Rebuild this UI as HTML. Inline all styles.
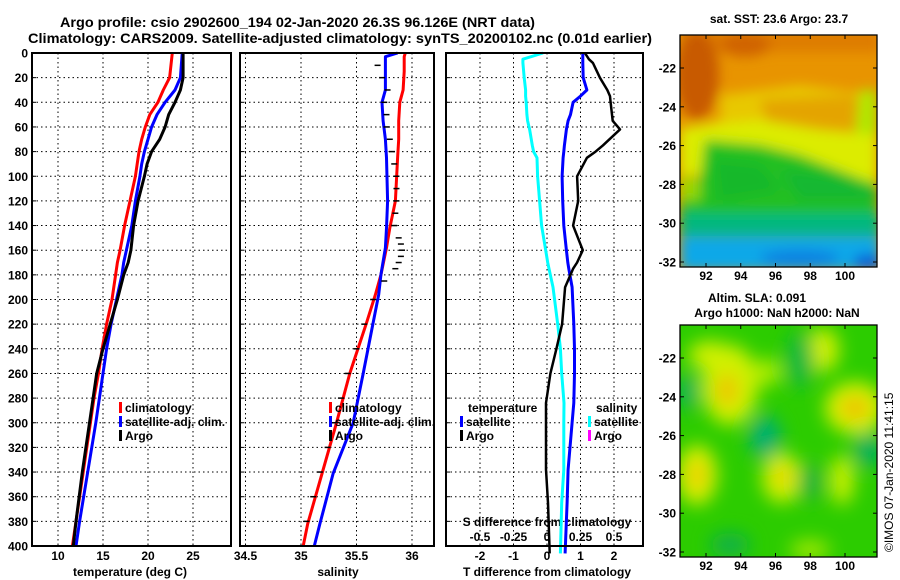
<!DOCTYPE html>
<html><head><meta charset="utf-8">
<style>
body{margin:0;background:#fff;}
svg{display:block;font-family:"Liberation Sans",sans-serif;font-weight:bold;}
</style></head>
<body>
<svg id="fig" width="900" height="580" viewBox="0 0 900 580" xmlns="http://www.w3.org/2000/svg">
<defs>
<filter id="bl" x="-20%" y="-20%" width="140%" height="140%"><feGaussianBlur stdDeviation="6"/></filter>
<filter id="bl2" x="-30%" y="-30%" width="160%" height="160%"><feGaussianBlur stdDeviation="9"/></filter>
<clipPath id="c1"><rect x="680" y="35" width="197" height="232"/></clipPath>
<clipPath id="c2"><rect x="680" y="325" width="197" height="232"/></clipPath>
</defs>
<text x="60" y="27" font-size="14" textLength="475" lengthAdjust="spacingAndGlyphs">Argo profile: csio 2902600_194 02-Jan-2020 26.3S 96.126E (NRT data)</text>
<text x="28" y="43" font-size="14" textLength="624" lengthAdjust="spacingAndGlyphs">Climatology: CARS2009. Satellite-adjusted climatology: synTS_20200102.nc (0.01d earlier)</text>

<!-- top map -->
<g clip-path="url(#c1)">
<rect x="680" y="35" width="197" height="232" fill="#e89400"/>
<g filter="url(#bl)">
<rect x="680" y="30" width="200" height="22" fill="#de7c00"/>
<ellipse cx="697" cy="75" rx="22" ry="45" fill="#c85a00"/>
<ellipse cx="745" cy="45" rx="25" ry="12" fill="#d06400"/>
<polygon points="720,95 800,85 877,95 877,185 680,170 680,130 720,120" fill="#e8c800"/>
<polygon points="760,100 850,95 877,105 877,150 820,150 770,135" fill="#e4a400"/>
<polygon points="860,90 877,90 877,185 850,180" fill="#b0e800"/>
<polygon points="680,128 760,120 820,130 877,135 877,180 680,175" fill="#dcec00"/>
<polygon points="705,140 760,145 800,155 877,185 877,235 680,235 680,180 700,180" fill="#22c020"/>
<polygon points="715,160 760,165 780,190 720,200" fill="#12b82a"/>
<polygon points="780,170 830,175 877,190 877,200 800,200" fill="#18b830"/>
<polygon points="680,175 700,180 700,200 680,200" fill="#9ad800"/>
<rect x="680" y="213" width="200" height="22" fill="#00b880"/>
<rect x="680" y="236" width="200" height="35" fill="#10a8e8"/>
<ellipse cx="800" cy="258" rx="40" ry="8" fill="#0880e0"/>
<ellipse cx="868" cy="262" rx="15" ry="8" fill="#0860d8"/>
</g>
</g>
<rect x="680" y="35" width="197" height="232" fill="none" stroke="#000" stroke-width="1.3"/>

<!-- bottom map -->
<g clip-path="url(#c2)">
<rect x="680" y="325" width="197" height="232" fill="#2ccc00"/>
<g filter="url(#bl2)">
<ellipse cx="730" cy="385" rx="28" ry="40" fill="#d0f000"/>
<ellipse cx="710" cy="355" rx="22" ry="14" fill="#d0f000"/>
<ellipse cx="823" cy="350" rx="16" ry="22" fill="#d0f000"/>
<ellipse cx="855" cy="408" rx="30" ry="26" fill="#d8f000"/>
<ellipse cx="697" cy="475" rx="20" ry="30" fill="#d8f000"/>
<ellipse cx="782" cy="478" rx="20" ry="25" fill="#d0f000"/>
<ellipse cx="842" cy="480" rx="12" ry="25" fill="#c8f000"/>
<ellipse cx="768" cy="372" rx="14" ry="14" fill="#a8ec00"/>
<ellipse cx="765" cy="437" rx="16" ry="22" fill="#00b070"/>
<ellipse cx="688" cy="392" rx="10" ry="18" fill="#00b060"/>
<ellipse cx="868" cy="450" rx="14" ry="18" fill="#00b060"/>
<ellipse cx="800" cy="360" rx="14" ry="28" fill="#10b840"/>
<ellipse cx="730" cy="545" rx="20" ry="12" fill="#10b048"/>
<ellipse cx="810" cy="482" rx="12" ry="18" fill="#10b040"/>
<ellipse cx="810" cy="550" rx="20" ry="10" fill="#a0e800"/>
<ellipse cx="727" cy="390" rx="10" ry="16" fill="#f0c000"/>
<ellipse cx="855" cy="408" rx="14" ry="10" fill="#f0b800"/>
<ellipse cx="697" cy="475" rx="8" ry="14" fill="#f0c800"/>
<ellipse cx="782" cy="476" rx="7" ry="9" fill="#f0c800"/>
</g>
</g>
<rect x="680" y="325" width="197" height="232" fill="none" stroke="#000" stroke-width="1.3"/>

<text x="779" y="23" font-size="12" text-anchor="middle">sat. SST: 23.6 Argo: 23.7</text>
<text x="757" y="302" font-size="12" text-anchor="middle">Altim. SLA: 0.091</text>
<text x="777" y="317" font-size="12" text-anchor="middle">Argo h1000: NaN h2000: NaN</text>
<text transform="translate(893,552) rotate(-90)" font-size="12" font-weight="normal">©IMOS 07-Jan-2020 11:41:15</text>

<text x="130" y="576" font-size="12" text-anchor="middle">temperature (deg C)</text>
<text x="338" y="576" font-size="12" text-anchor="middle">salinity</text>
<text x="547" y="576" font-size="12" text-anchor="middle">T difference from climatology</text>
<text x="547" y="526" font-size="12" text-anchor="middle">S difference from climatology</text>

<g id="dyn"></g>
</svg>
<script>
// ---- data ----
const depthTicks = [0,20,40,60,80,100,120,140,160,180,200,220,240,260,280,300,320,340,360,380,400];
const tempTicks = [10,15,20,25];
const salTicks = [34.5,35,35.5,36];
const tdiffTicks = [-2,-1,0,1,2];
const sdiffTicks = [-0.5,-0.25,0,0.25,0.5];
const sdiffLabels = ["-0.5","-0.25","0","0.25","0.5"];
const latTicks = [-22,-24,-26,-28,-30,-32];
const lonTicks = [92,94,96,98,100];

const tDepths = [0,20,30,40,50,60,70,80,90,100,120,140,160,170,180,200,220,240,260,280,300,340,380,400];
const tClim =   [22.7,22.4,21.7,21.1,20.2,19.7,19.3,19.0,18.8,18.6,18.0,17.4,16.9,16.6,16.4,16.0,15.4,14.9,14.5,14.0,13.6,12.8,12.0,11.6];
const tSat =    [23.8,23.6,23.0,21.9,21.0,20.4,20.0,19.6,19.3,19.1,18.6,18.2,17.6,17.3,17.1,16.5,15.9,15.4,15.0,14.6,14.2,13.3,12.4,12.0];
const tArgo =   [23.9,23.9,23.6,23.0,22.3,21.9,21.3,20.4,19.9,19.6,18.9,18.4,18.1,17.8,17.3,16.6,15.8,15.0,14.3,13.9,13.5,12.7,12.0,11.7];

const sDepths = [0,3,15,30,40,55,70,85,120,142,158,180,196,219,260,300,341,382,400];
const sClim = [35.94,35.93,35.93,35.92,35.89,35.88,35.88,35.87,35.85,35.80,35.77,35.72,35.67,35.59,35.44,35.32,35.19,35.06,35.02];
const sSat =  [35.87,35.76,35.76,35.76,35.73,35.74,35.76,35.77,35.78,35.77,35.76,35.72,35.70,35.65,35.56,35.47,35.29,35.17,35.12];
const sArgoDepths = [10,20,30,40,50,60,70,80,90,100,110,120,130,140,150,155,160,165,170,175,185,200,220,240,260,280,300,320,340,360,380,400];
const sArgo = [35.69,35.73,35.78,35.75,35.77,35.77,35.80,35.82,35.84,35.86,35.86,35.86,35.85,35.84,35.88,35.90,35.91,35.90,35.88,35.85,35.75,35.65,35.57,35.50,35.42,35.36,35.30,35.24,35.17,35.11,35.05,35.01];

const dDepths = [0,5,8,20,30,35,40,50,55,62,75,80,85,100,120,140,160,170,175,190,220,240,260,284,300,338,365,406];
const dTArgo = [1.13,1.25,1.37,1.58,1.80,1.88,1.90,1.94,1.96,2.18,1.67,1.45,1.19,0.90,0.93,0.78,1.07,0.90,0.78,0.54,0.45,0.28,0.10,-0.03,-0.03,-0.03,0.03,0.08];
const dTSat =  [1.07,1.07,1.07,1.08,1.19,1.00,0.78,0.70,0.63,0.58,0.52,0.50,0.48,0.45,0.47,0.50,0.58,0.62,0.65,0.75,0.80,0.82,0.82,0.80,0.75,0.63,0.60,0.54];
const dSSat =  [-0.03,-0.18,-0.18,-0.17,-0.16,-0.16,-0.155,-0.15,-0.145,-0.13,-0.11,-0.10,-0.075,-0.07,-0.055,-0.04,-0.01,0.005,0.015,0.045,0.08,0.10,0.11,0.127,0.125,0.125,0.11,0.10];

// ---- axes ----
const Y0=53, Y1=546;
function yD(d){return Y0+(Y1-Y0)*d/400;}
function xT(t){return 58+(t-10)*9;}
function xS(s){return 301+(s-35)*111;}
function xDT(t){return 547+t*33.5;}
function xDS(s){return 547+s*134;}
function latY1(l){return 68+(-22-l)*19.4;}
function latY2(l){return 358+(-22-l)*19.4;}
function lonX(l){return 706+(l-92)*17.375;}

const NS="http://www.w3.org/2000/svg";
const root=document.getElementById('dyn');
function mk(tag,attrs,parent){const e=document.createElementNS(NS,tag);for(const k in attrs)e.setAttribute(k,attrs[k]);(parent||root).appendChild(e);return e;}
function txt(x,y,s,anchor,size,parent){const e=mk('text',{x:x,y:y,'font-size':size||12,'text-anchor':anchor||'middle'},parent);e.textContent=s;return e;}

const panels=[{x0:32,x1:231,name:'temperature-panel'},{x0:240,x1:434,name:'salinity-panel'},{x0:446,x1:643,name:'difference-panel'}];
panels.forEach((p,i)=>{
  const g=mk('g',{});
  
  
  depthTicks.forEach(d=>{
    if(d>0&&d<400){const l=mk('line',{x1:p.x0,x2:p.x1,y1:yD(d),y2:yD(d),stroke:'#000','stroke-width':1,'stroke-dasharray':'1.5,3'},g);
    
    }
    const t=mk('line',{x1:p.x0,x2:p.x0+4,y1:yD(d),y2:yD(d),stroke:'#000'},g);
    
    
  });
  p.g=g;
});
tempTicks.forEach(v=>{const l=mk('line',{x1:xT(v),x2:xT(v),y1:Y0,y2:Y1,stroke:'#000','stroke-dasharray':'1.5,3'},panels[0].g);
  
  
  const t=txt(xT(v),560,String(v));
  
  });
salTicks.forEach(v=>{const l=mk('line',{x1:xS(v),x2:xS(v),y1:Y0,y2:Y1,stroke:'#000','stroke-dasharray':'1.5,3'},panels[1].g);
  
  
  const t=txt(xS(v),560,String(v));
  
  });
tdiffTicks.forEach(v=>{const l=mk('line',{x1:xDT(v),x2:xDT(v),y1:Y0,y2:Y1,stroke:'#000','stroke-dasharray':'1.5,3'},panels[2].g);
  
  
  const t=txt(xDT(v),560,String(v));
  
  });
sdiffTicks.forEach((v,i)=>{const t=txt(xDS(v),541,sdiffLabels[i]);
  
  });
depthTicks.forEach(d=>{const t=txt(28,yD(d)+4.5,String(d),'end');
  
  });

function poly(xs,ds,fx,color,w,name,dash){
  const pts=xs.map((v,i)=>fx(v).toFixed(1)+','+yD(ds[i]).toFixed(1)).join(' ');
  const e=mk('polyline',{points:pts,fill:'none',stroke:color,'stroke-width':w,'stroke-linejoin':'round'});
  if(dash)e.setAttribute('stroke-dasharray',dash);
  
  
  return e;
}
poly(tClim,tDepths,xT,'#f00',3,'temp-climatology-line');
poly(tSat,tDepths,xT,'#00f',3,'temp-satellite-line');
poly(tArgo,tDepths,xT,'#000',3,'temp-argo-line');
poly(sClim,sDepths,xS,'#f00',3,'sal-climatology-line');
poly(sSat,sDepths,xS,'#00f',3,'sal-satellite-line');
sArgo.forEach((v,i)=>{
  const e=mk('line',{x1:xS(v)-3,x2:xS(v)+3,y1:yD(sArgoDepths[i]),y2:yD(sArgoDepths[i]),stroke:'#000','stroke-width':1.5});
  
  
});
poly(dSSat,dDepths,xDS,'#0ff',3,'sdiff-satellite-line');
poly(dTSat,dDepths,xDT,'#00f',3,'tdiff-satellite-line');
poly(dTArgo,dDepths,xDT,'#000',2.5,'tdiff-argo-line');

panels.forEach(p=>{const r=mk('rect',{x:p.x0,y:Y0,width:p.x1-p.x0,height:Y1-Y0,fill:'none',stroke:'#000','stroke-width':2});
  
  });

function leg(x,y,color,label,name){
  const g=mk('g',{});
  
  
  mk('rect',{x:x,y:y-10,width:3,height:11,fill:color},g);
  txt(x+6,y,label,'start',12,g);
}
leg(119,412,'#f00','climatology','legend-temp-climatology');
leg(119,426,'#00f','satellite-adj. clim.','legend-temp-satellite');
leg(119,440,'#000','Argo','legend-temp-argo');
leg(329,412,'#f00','climatology','legend-sal-climatology');
leg(329,426,'#00f','satellite-adj. clim.','legend-sal-satellite');
leg(329,440,'#000','Argo','legend-sal-argo');
const lt=txt(468,412,'temperature','start');


leg(460,426,'#00f','satellite','legend-tdiff-satellite');
leg(460,440,'#000','Argo','legend-tdiff-argo');
const ls=txt(596,412,'salinity','start');


leg(588,426,'#0ff','satellite','legend-sdiff-satellite');
leg(588,440,'#f0f','Argo','legend-sdiff-argo');

latTicks.forEach(l=>{
  [latY1(l),latY2(l)].forEach(y=>{
    const t=txt(676,y+4.5,String(l),'end');
    
    
    mk('line',{x1:680,x2:684,y1:y,y2:y,stroke:'#000'});
    mk('line',{x1:873,x2:877,y1:y,y2:y,stroke:'#000'});
  });
});
lonTicks.forEach(l=>{
  [[280,35],[570,325]].forEach(([ly,top])=>{
    const t=txt(lonX(l),ly,String(l));
    
    
    mk('line',{x1:lonX(l),x2:lonX(l),y1:top,y2:top+4,stroke:'#000'});
    mk('line',{x1:lonX(l),x2:lonX(l),y1:top+228,y2:top+232,stroke:'#000'});
  });
});
</script>
</body></html>
